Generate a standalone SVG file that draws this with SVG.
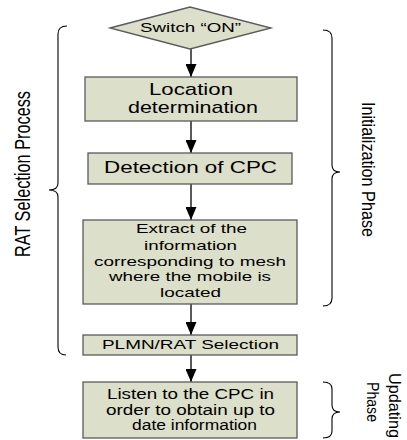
<svg xmlns="http://www.w3.org/2000/svg" width="407" height="440" viewBox="0 0 407 440">
<defs>
<style>
.box{fill:#dcdfc9;stroke:#5a5a5a;stroke-width:1.3}
.t{font-family:"Liberation Sans",Arial,sans-serif;fill:#000;text-anchor:middle}
.edge{stroke:#000;stroke-width:1.3;fill:none;marker-end:url(#ah)}
.brace{stroke:#000;stroke-width:1.1;fill:none}
</style>
<marker id="ah" viewBox="0 0 13 11" refX="13" refY="5.5" markerWidth="13" markerHeight="11" markerUnits="userSpaceOnUse" orient="auto">
<path d="M0,0 L13,5.5 L0,11 Z" fill="#000"/>
</marker>
</defs>
<rect width="407" height="440" fill="#fff"/>
<g id="connectors">
<line class="edge" x1="191" y1="49" x2="191" y2="77"/>
<line class="edge" x1="191" y1="121" x2="191" y2="153"/>
<line class="edge" x1="191" y1="184" x2="191" y2="220"/>
<line class="edge" x1="191" y1="304" x2="191" y2="335"/>
<line class="edge" x1="191" y1="355" x2="191" y2="382"/>
</g>
<g id="switch-on">
<polygon class="box" points="110,28 190,7 271,28 190,49"/>
<text class="t" x="190.5" y="32" font-size="13" textLength="101" lengthAdjust="spacingAndGlyphs">Switch “ON”</text>
</g>
<g id="location">
<rect class="box" x="85" y="77" width="212" height="44"/>
<text class="t" x="191" y="95" font-size="17" textLength="84" lengthAdjust="spacingAndGlyphs">Location</text>
<text class="t" x="193" y="113" font-size="17" textLength="130" lengthAdjust="spacingAndGlyphs">determination</text>
</g>
<g id="detection">
<rect class="box" x="88" y="153" width="204" height="31"/>
<text class="t" x="190.5" y="173" font-size="16" textLength="173" lengthAdjust="spacingAndGlyphs">Detection of CPC</text>
</g>
<g id="extract">
<rect class="box" x="83" y="220" width="214" height="84"/>
<text class="t" x="191.5" y="233" font-size="13.5" textLength="111" lengthAdjust="spacingAndGlyphs">Extract of the</text>
<text class="t" x="190.5" y="250" font-size="13.5" textLength="93" lengthAdjust="spacingAndGlyphs">information</text>
<text class="t" x="190" y="266" font-size="13.5" textLength="192" lengthAdjust="spacingAndGlyphs">corresponding to mesh</text>
<text class="t" x="190" y="281" font-size="13.5" textLength="162" lengthAdjust="spacingAndGlyphs">where the mobile is</text>
<text class="t" x="190.5" y="297" font-size="13.5" textLength="61" lengthAdjust="spacingAndGlyphs">located</text>
</g>
<g id="plmn">
<rect class="box" x="83" y="335" width="214" height="20"/>
<text class="t" x="190.5" y="348.5" font-size="13" textLength="177" lengthAdjust="spacingAndGlyphs">PLMN/RAT Selection</text>
</g>
<g id="listen">
<rect class="box" x="83" y="382" width="214" height="56"/>
<text class="t" x="190.5" y="399" font-size="14" textLength="167" lengthAdjust="spacingAndGlyphs">Listen to the CPC in</text>
<text class="t" x="190.5" y="415" font-size="14" textLength="169" lengthAdjust="spacingAndGlyphs">order to obtain up to</text>
<text class="t" x="194.5" y="430" font-size="14" textLength="125" lengthAdjust="spacingAndGlyphs">date information</text>
</g>
<g id="rat-selection-brace">
<path class="brace" d="M67,26 Q58,26 58,34 L58,183 Q58,190 49,190 Q58,190 58,197 L58,347 Q58,355 66,355"/>
<text class="t" transform="translate(30,174) rotate(-90)" font-size="22" textLength="166" lengthAdjust="spacingAndGlyphs">RAT Selection Process</text>
</g>
<g id="initialization-brace">
<path class="brace" d="M323,30 Q332,30 332,38 L332,165 Q332,172 340,172 Q332,172 332,179 L332,298 Q332,306 323,306"/>
<text class="t" transform="translate(362,169.5) rotate(90)" font-size="18" textLength="135" lengthAdjust="spacingAndGlyphs">Initialization Phase</text>
</g>
<g id="updating-brace">
<path class="brace" d="M323,382 Q332,382 332,389 L332,405 Q332,412 340,412 Q332,412 332,419 L332,431 Q332,438 323,438"/>
<text class="t" transform="translate(389,405.5) rotate(90)" font-size="16" textLength="65" lengthAdjust="spacingAndGlyphs">Updating</text>
<text class="t" transform="translate(367,402) rotate(90)" font-size="16" textLength="40" lengthAdjust="spacingAndGlyphs">Phase</text>
</g>
</svg>
